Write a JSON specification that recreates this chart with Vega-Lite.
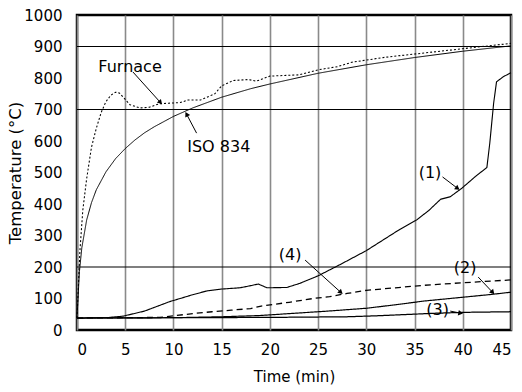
{
  "$schema": "https://vega.github.io/schema/vega-lite/v6.json",
  "autosize": "none",
  "width": 434,
  "height": 315,
  "padding": {"left": 77, "top": 15, "right": 11, "bottom": 62},
  "background": "white",
  "config": {
    "view": {"stroke": "black", "strokeWidth": 2.5},
    "font": "DejaVu Sans"
  },
  "datasets": {
    "curves": [
      {"s": "ISO", "t": 0, "T": 38}, {"s": "ISO", "t": 0.25, "T": 185}, {"s": "ISO", "t": 0.5, "T": 261}, {"s": "ISO", "t": 1, "T": 349}, {"s": "ISO", "t": 1.5, "T": 404}, {"s": "ISO", "t": 2, "T": 445}, {"s": "ISO", "t": 3, "T": 502}, {"s": "ISO", "t": 4, "T": 544}, {"s": "ISO", "t": 5, "T": 576}, {"s": "ISO", "t": 6, "T": 603}, {"s": "ISO", "t": 7, "T": 626}, {"s": "ISO", "t": 8, "T": 645}, {"s": "ISO", "t": 10, "T": 678}, {"s": "ISO", "t": 12, "T": 705}, {"s": "ISO", "t": 15, "T": 739}, {"s": "ISO", "t": 18, "T": 766}, {"s": "ISO", "t": 20, "T": 781}, {"s": "ISO", "t": 25, "T": 815}, {"s": "ISO", "t": 30, "T": 842}, {"s": "ISO", "t": 35, "T": 865}, {"s": "ISO", "t": 40, "T": 885}, {"s": "ISO", "t": 45, "T": 902},
      {"s": "Furnace", "t": 0, "T": 38}, {"s": "Furnace", "t": 0.3, "T": 250}, {"s": "Furnace", "t": 0.6, "T": 380}, {"s": "Furnace", "t": 1, "T": 480}, {"s": "Furnace", "t": 1.5, "T": 580}, {"s": "Furnace", "t": 2, "T": 640}, {"s": "Furnace", "t": 2.5, "T": 690}, {"s": "Furnace", "t": 3, "T": 725}, {"s": "Furnace", "t": 3.5, "T": 745}, {"s": "Furnace", "t": 4, "T": 755}, {"s": "Furnace", "t": 4.4, "T": 752}, {"s": "Furnace", "t": 5, "T": 732}, {"s": "Furnace", "t": 5.5, "T": 715}, {"s": "Furnace", "t": 6.5, "T": 705}, {"s": "Furnace", "t": 7.5, "T": 707}, {"s": "Furnace", "t": 8.5, "T": 718}, {"s": "Furnace", "t": 9.5, "T": 720}, {"s": "Furnace", "t": 10.7, "T": 722}, {"s": "Furnace", "t": 11.5, "T": 730}, {"s": "Furnace", "t": 12.8, "T": 730}, {"s": "Furnace", "t": 14.3, "T": 750}, {"s": "Furnace", "t": 15, "T": 775}, {"s": "Furnace", "t": 16.2, "T": 792}, {"s": "Furnace", "t": 17.8, "T": 795}, {"s": "Furnace", "t": 18.6, "T": 790}, {"s": "Furnace", "t": 20, "T": 806}, {"s": "Furnace", "t": 23, "T": 810}, {"s": "Furnace", "t": 25, "T": 826}, {"s": "Furnace", "t": 27, "T": 836}, {"s": "Furnace", "t": 28.5, "T": 850}, {"s": "Furnace", "t": 32, "T": 866}, {"s": "Furnace", "t": 35, "T": 876}, {"s": "Furnace", "t": 40, "T": 893}, {"s": "Furnace", "t": 45, "T": 910},
      {"s": "1", "t": 0, "T": 38}, {"s": "1", "t": 3, "T": 39}, {"s": "1", "t": 4.8, "T": 44}, {"s": "1", "t": 7, "T": 60}, {"s": "1", "t": 9.6, "T": 90}, {"s": "1", "t": 12, "T": 112}, {"s": "1", "t": 13.45, "T": 124}, {"s": "1", "t": 15, "T": 130}, {"s": "1", "t": 16.9, "T": 134}, {"s": "1", "t": 17.9, "T": 140}, {"s": "1", "t": 18.8, "T": 146}, {"s": "1", "t": 19.7, "T": 134}, {"s": "1", "t": 21.75, "T": 135}, {"s": "1", "t": 23.1, "T": 148}, {"s": "1", "t": 25, "T": 172}, {"s": "1", "t": 27.3, "T": 208}, {"s": "1", "t": 30, "T": 252}, {"s": "1", "t": 33.5, "T": 320}, {"s": "1", "t": 35.2, "T": 349}, {"s": "1", "t": 36.5, "T": 380}, {"s": "1", "t": 37.7, "T": 415}, {"s": "1", "t": 38.7, "T": 423}, {"s": "1", "t": 39.9, "T": 450}, {"s": "1", "t": 41.3, "T": 487}, {"s": "1", "t": 42.5, "T": 516}, {"s": "1", "t": 42.8, "T": 593}, {"s": "1", "t": 43.2, "T": 720}, {"s": "1", "t": 43.5, "T": 788}, {"s": "1", "t": 44.2, "T": 804}, {"s": "1", "t": 45, "T": 817},
      {"s": "2", "t": 0, "T": 38}, {"s": "2", "t": 10, "T": 39}, {"s": "2", "t": 15, "T": 42}, {"s": "2", "t": 19, "T": 46}, {"s": "2", "t": 22, "T": 52}, {"s": "2", "t": 26, "T": 60}, {"s": "2", "t": 30, "T": 69}, {"s": "2", "t": 33, "T": 80}, {"s": "2", "t": 36, "T": 92}, {"s": "2", "t": 40, "T": 104}, {"s": "2", "t": 43, "T": 113}, {"s": "2", "t": 45, "T": 120},
      {"s": "3", "t": 0, "T": 38}, {"s": "3", "t": 20, "T": 40}, {"s": "3", "t": 28, "T": 42}, {"s": "3", "t": 31, "T": 45}, {"s": "3", "t": 34, "T": 49}, {"s": "3", "t": 37, "T": 53}, {"s": "3", "t": 40, "T": 56}, {"s": "3", "t": 45, "T": 58},
      {"s": "4", "t": 0, "T": 38}, {"s": "4", "t": 8.6, "T": 40}, {"s": "4", "t": 10, "T": 45}, {"s": "4", "t": 12, "T": 52}, {"s": "4", "t": 14, "T": 58}, {"s": "4", "t": 16, "T": 63}, {"s": "4", "t": 18, "T": 68}, {"s": "4", "t": 19.1, "T": 76}, {"s": "4", "t": 22, "T": 88}, {"s": "4", "t": 24.5, "T": 100}, {"s": "4", "t": 26.2, "T": 106}, {"s": "4", "t": 28, "T": 116}, {"s": "4", "t": 30, "T": 126}, {"s": "4", "t": 33, "T": 134}, {"s": "4", "t": 36, "T": 142}, {"s": "4", "t": 40, "T": 150}, {"s": "4", "t": 45, "T": 159}
    ],
    "hlines": [{"T": 200}, {"T": 700}, {"T": 900}],
    "labels": [
      {"text": "Furnace", "t": 5.5, "T": 835},
      {"text": "ISO 834", "t": 14.7, "T": 581},
      {"text": "(1)", "t": 36.6, "T": 498},
      {"text": "(4)", "t": 22.1, "T": 238},
      {"text": "(2)", "t": 40.25, "T": 197},
      {"text": "(3)", "t": 37.4, "T": 63}
    ],
    "arrows": [
      {"t": 5.8, "T": 819, "t2": 8.6, "T2": 724, "dir": 138},
      {"t": 12.4, "T": 625, "t2": 11.4, "T2": 683, "dir": 331},
      {"t": 37.9, "T": 486, "t2": 39.4, "T2": 451, "dir": 126},
      {"t": 23.65, "T": 222, "t2": 27.3, "T2": 121, "dir": 132},
      {"t": 41.6, "T": 168, "t2": 43.05, "T2": 121, "dir": 137},
      {"t": 38.7, "T": 60, "t2": 39.7, "T2": 54, "dir": 101}
    ]
  },
  "encoding": {
    "x": {"field": "t", "type": "quantitative", "scale": {"domain": [0, 45], "nice": false},
      "axis": {"values": [0,5,10,15,20,25,30,35,40,45], "format": "d", "grid": true, "gridColor": "#8a8a8a", "gridWidth": 1.6, "ticks": false, "domain": false, "labelFont": "DejaVu Sans", "labelFontSize": 15, "labelColor": "black", "labelPadding": 12,
        "title": "Time (min)", "titleFont": "DejaVu Sans", "titleFontSize": 15, "titleFontWeight": "normal", "titleColor": "black", "titlePadding": 12}},
    "y": {"field": "T", "type": "quantitative", "scale": {"domain": [0, 1000], "nice": false},
      "axis": {"values": [0,100,200,300,400,500,600,700,800,900,1000], "labelOverlap": false, "labelBound": false, "format": "d", "grid": false, "ticks": false, "domain": false, "labelFont": "DejaVu Sans", "labelFontSize": 15, "labelColor": "black", "labelPadding": 15,
        "title": "Temperature (°C)", "titleFont": "DejaVu Sans", "titleFontSize": 16.5, "titleFontWeight": "normal", "titleColor": "black", "titlePadding": 0}}
  },
  "layer": [
    {
      "data": {"name": "curves"},
      "mark": {"type": "line", "color": "black", "strokeJoin": "round"},
      "encoding": {
        "detail": {"field": "s"},
        "strokeWidth": {"field": "s", "type": "nominal", "scale": {"domain": ["ISO", "Furnace", "1", "2", "3", "4"], "range": [1, 1.3, 3.2, 2, 1.3, 2]}, "legend": null},
        "strokeDash": {"field": "s", "type": "nominal", "scale": {"domain": ["ISO", "Furnace", "1", "2", "3", "4"], "range": [[1, 0], [2, 2], [1, 0], [1, 0], [1, 0], [6, 4]]}, "legend": null}
      }
    },
    {
      "data": {"name": "hlines"},
      "mark": {"type": "rule", "color": "black", "strokeWidth": 1.2},
      "encoding": {
        "x": null
      }
    },
    {
      "data": {"name": "arrows"},
      "mark": {"type": "rule", "color": "black", "strokeWidth": 1},
      "encoding": {
        "x2": {"field": "t2"},
        "y2": {"field": "T2"}
      }
    },
    {
      "data": {"name": "arrows"},
      "mark": {"type": "point", "shape": "triangle", "filled": true, "color": "black", "size": 30, "opacity": 1},
      "encoding": {
        "x": {"field": "t2", "type": "quantitative"},
        "y": {"field": "T2", "type": "quantitative"},
        "angle": {"field": "dir", "type": "quantitative", "scale": null}
      }
    },
    {
      "data": {"name": "labels"},
      "mark": {"type": "text", "font": "DejaVu Sans", "fontSize": 16, "color": "black", "align": "center", "baseline": "middle"},
      "encoding": {
        "text": {"field": "text"}
      }
    }
  ]
}
